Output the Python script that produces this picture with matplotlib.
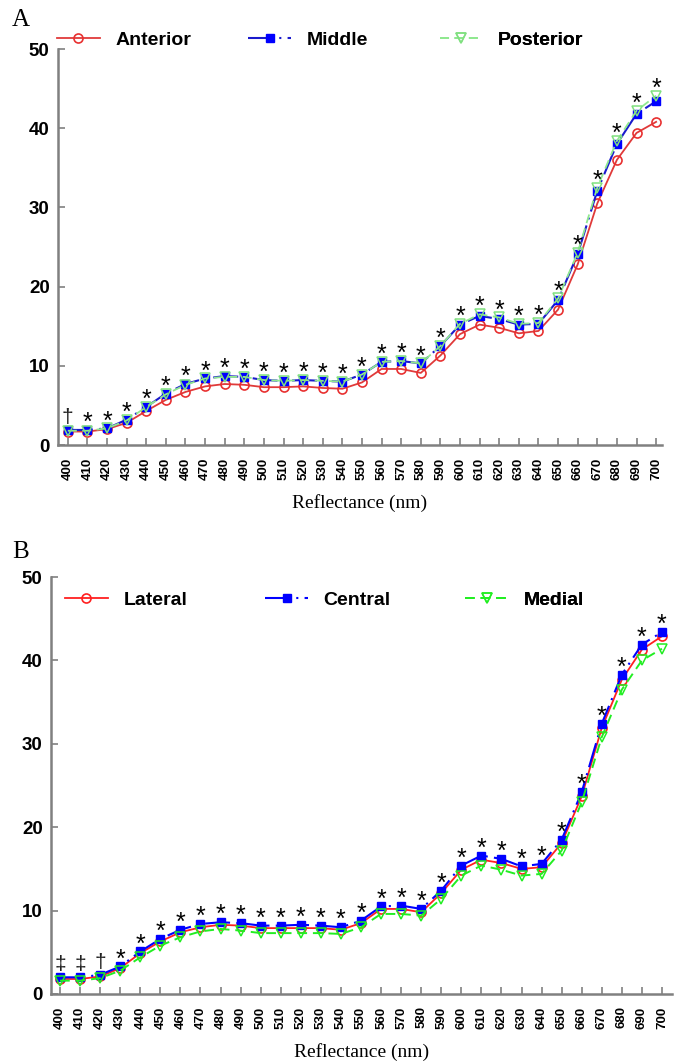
"""
Reflectance spectra for two sets of regions (panels A and B).
"""

import numpy as np
import matplotlib.pyplot as plt

WAVELENGTHS = np.arange(400, 701, 10)

# Panel A
ANTERIOR = [1.7, 1.7, 2.0, 2.8, 4.3, 5.7, 6.7, 7.4, 7.7, 7.6, 7.3, 7.3, 7.4, 7.2, 7.1, 7.9,
            9.6, 9.6, 9.1, 11.3, 14.0, 15.2, 14.8, 14.1, 14.4, 17.1, 22.8, 30.5, 36.0, 39.4, 40.8]
MIDDLE = [1.9, 1.9, 2.1, 3.2, 4.8, 6.5, 7.7, 8.4, 8.7, 8.6, 8.2, 8.1, 8.2, 8.1, 8.0, 8.9,
          10.5, 10.6, 10.3, 12.5, 15.2, 16.3, 15.9, 15.2, 15.3, 18.3, 24.1, 32.1, 38.0, 41.8, 43.4]
POSTERIOR = [1.8, 1.8, 2.1, 3.1, 4.8, 6.4, 7.6, 8.4, 8.6, 8.6, 8.2, 8.1, 8.2, 8.1, 8.0, 8.9,
             10.5, 10.6, 10.3, 12.5, 15.3, 16.5, 16.1, 15.3, 15.4, 18.5, 24.3, 32.5, 38.4, 42.2, 44.1]
SIG_A = ["†"] + ["*"] * 30

# Panel B
LATERAL = [1.8, 1.8, 2.1, 3.1, 4.9, 6.3, 7.4, 8.0, 8.3, 8.2, 7.9, 7.9, 7.9, 7.9, 7.7, 8.5,
           10.2, 10.2, 9.8, 12.1, 14.9, 16.1, 15.7, 15.0, 15.2, 18.1, 23.7, 31.9, 37.7, 41.3, 42.9]
CENTRAL = [2.0, 2.0, 2.3, 3.3, 5.1, 6.6, 7.7, 8.4, 8.6, 8.5, 8.2, 8.2, 8.3, 8.2, 8.0, 8.8,
           10.5, 10.6, 10.2, 12.4, 15.4, 16.6, 16.2, 15.3, 15.6, 18.5, 24.2, 32.4, 38.3, 41.9, 43.4]
MEDIAL = [1.6, 1.6, 1.9, 2.8, 4.4, 5.8, 6.8, 7.5, 7.8, 7.6, 7.3, 7.3, 7.3, 7.3, 7.2, 8.0,
          9.6, 9.6, 9.4, 11.4, 14.2, 15.4, 14.9, 14.2, 14.4, 17.2, 23.0, 30.8, 36.5, 40.0, 41.4]
SIG_B = ["‡", "‡", "†"] + ["*"] * 28

SANS = "Liberation Sans"
SERIF = "Liberation Serif"


def draw_panel(ax, series, styles, labels, marks, legend_x, legend_y, xlim):
    handles = []
    for values, style in zip(series, styles):
        (line,) = ax.plot(WAVELENGTHS, values, **style)
        handles.append(line)

    top = np.max(np.array(series), axis=0)
    for x, y, m in zip(WAVELENGTHS, top, marks):
        if m == "*":
            ax.annotate(m, (x, y), xytext=(0, 0), textcoords="offset points",
                        ha="center", va="baseline", fontsize=18,
                        family=[SANS, "DejaVu Sans"], color="black")
        else:
            ax.annotate(m, (x, y), xytext=(0, 5), textcoords="offset points",
                        ha="center", va="baseline", fontsize=15,
                        family=[SANS, "DejaVu Sans"], color="#202020")

    for h, lab, lx in zip(handles, labels, legend_x):
        leg = ax.legend([h], [lab], loc="center left", bbox_to_anchor=(lx, legend_y),
                        frameon=False, handlelength=2.2, handletextpad=0.8,
                        borderpad=0, borderaxespad=0,
                        prop={"family": SANS, "weight": "bold", "size": 14})
        ax.add_artist(leg)

    ax.set_xlim(*xlim)
    ax.set_ylim(0, 50)
    ax.set_xticks(WAVELENGTHS)
    ax.set_xticklabels([str(w) for w in WAVELENGTHS], rotation=90,
                       fontsize=9.5, fontweight="bold", family=SANS)
    ax.set_yticks([0, 10, 20, 30, 40, 50])
    ax.set_yticklabels(["0", "10", "20", "30", "40", "50"],
                       fontsize=13.5, fontweight="bold", family=SANS)
    ax.tick_params(direction="in", color="#808080", length=5, width=1.2)
    ax.tick_params(axis="x", pad=9)
    ax.tick_params(axis="y", pad=6)
    for side in ("top", "right"):
        ax.spines[side].set_visible(False)
    for side in ("left", "bottom"):
        ax.spines[side].set_color("#808080")
        ax.spines[side].set_linewidth(1.8)
    ax.set_xlabel("Reflectance (nm)", family=SERIF, fontsize=14, labelpad=10)


def create_chart() -> None:
    fig = plt.figure(figsize=(6.82, 10.63), dpi=100)

    ax_a = fig.add_axes([58 / 682, 1 - 445 / 1063, 604 / 682, 396 / 1063])
    styles_a = [
        dict(color="#e03a3a", lw=1.3, marker="o", ms=6.5, mfc="none", mec="#e83030", mew=1.2),
        dict(color="#1a1acc", lw=1.5, ls=(0, (12, 3, 1, 3)), marker="s", ms=5.5,
             mfc="#0000ff", mec="#0000ff"),
        dict(color="#90e890", lw=1.3, ls=(0, (5, 3)), marker="v", ms=6.5, mfc="none",
             mec="#80e080", mew=1.1),
    ]
    draw_panel(ax_a, [ANTERIOR, MIDDLE, POSTERIOR], styles_a,
               ["Anterior", "Middle", "Posterior"], SIG_A,
               [-0.002, 0.315, 0.632], 1.023, (395.0, 703.0))
    fig.text(12 / 682, 1 - 20 / 1063, "A", family=SERIF, fontsize=18, va="center")

    ax_b = fig.add_axes([51 / 682, 1 - 994 / 1063, 621 / 682, 417 / 1063])
    styles_b = [
        dict(color="#ff2020", lw=1.3, marker="o", ms=6.5, mfc="none", mec="#ff2020", mew=1.2),
        dict(color="#0000ff", lw=1.5, ls=(0, (12, 3, 1, 3)), marker="s", ms=5.5,
             mfc="#0000ff", mec="#0000ff"),
        dict(color="#22ee22", lw=1.4, ls=(0, (5, 3)), marker="v", ms=6.5, mfc="none",
             mec="#22ee22", mew=1.1),
    ]
    draw_panel(ax_b, [LATERAL, CENTRAL, MEDIAL], styles_b,
               ["Lateral", "Central", "Medial"], SIG_B,
               [0.0226, 0.345, 0.667], 0.945, (395.5, 705.0))
    fig.text(12 / 682, 1 - 552 / 1063, "B", family=SERIF, fontsize=18, va="center")

    fig.savefig("out.png", dpi=100)


if __name__ == "__main__":
    create_chart()
